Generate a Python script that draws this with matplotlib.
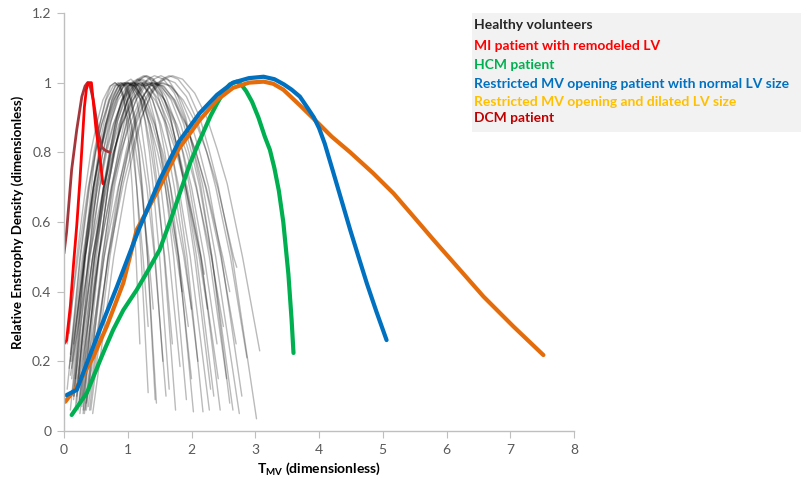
import matplotlib
matplotlib.use("Agg")
import matplotlib.pyplot as plt
from matplotlib.patches import Rectangle

plt.rcParams['font.family'] = ['Lato', 'DejaVu Sans']
plt.rcParams['mathtext.fontset'] = 'custom'
plt.rcParams['mathtext.bf'] = 'Lato:bold'
plt.rcParams['mathtext.rm'] = 'Lato'

# ---------------- data ----------------
# Healthy volunteers: one row per volunteer curve
hv_x = [
    [.10, .25, .39, .47, .56, .66, .77, .85, .89, .94, .99, 1.03, 1.07, 1.13, 1.19],
    [.05, .26, .40, .50, .59, .70, .81, .90, .95, 1.00, 1.05, 1.10, 1.14, 1.21, 1.32],
    [.15, .32, .43, .49, .56, .65, .73, .80, .86, .94, 1.02, 1.08, 1.14, 1.24, 1.32],
    [.10, .33, .47, .56, .65, .75, .86, .95, 1.00, 1.06, 1.12, 1.18, 1.23, 1.31, 1.43],
    [.20, .39, .51, .58, .66, .75, .85, .92, .98, 1.04, 1.11, 1.17, 1.22, 1.31, 1.45],
    [.12, .33, .48, .57, .67, .79, .90, 1.00, 1.06, 1.14, 1.21, 1.27, 1.34, 1.43, 1.55],
    [.18, .41, .56, .65, .74, .85, .96, 1.05, 1.11, 1.19, 1.27, 1.34, 1.40, 1.50, 1.65],
    [.25, .48, .62, .71, .80, .91, 1.01, 1.10, 1.17, 1.25, 1.33, 1.40, 1.47, 1.57, 1.75],
    [.08, .29, .46, .57, .68, .81, .94, 1.05, 1.14, 1.24, 1.35, 1.43, 1.52, 1.65, 1.82],
    [.22, .47, .62, .72, .82, .94, 1.05, 1.15, 1.23, 1.33, 1.43, 1.51, 1.59, 1.72, 1.92],
    [.15, .31, .46, .56, .66, .78, .90, 1.00, 1.11, 1.25, 1.39, 1.51, 1.62, 1.80, 1.95],
    [.30, .55, .69, .79, .88, .99, 1.11, 1.20, 1.29, 1.39, 1.50, 1.58, 1.67, 1.80, 2.03],
    [.14, .39, .56, .67, .78, .91, 1.04, 1.15, 1.26, 1.39, 1.52, 1.63, 1.73, 1.90, 2.10],
    [.28, .54, .70, .80, .90, 1.03, 1.15, 1.25, 1.35, 1.46, 1.58, 1.68, 1.77, 1.93, 2.18],
    [.10, .33, .53, .65, .77, .92, 1.08, 1.20, 1.33, 1.49, 1.65, 1.78, 1.91, 2.12, 2.25],
    [.35, .61, .76, .86, .96, 1.08, 1.20, 1.30, 1.41, 1.54, 1.67, 1.78, 1.88, 2.05, 2.30],
    [.20, .48, .67, .78, .90, 1.04, 1.18, 1.30, 1.43, 1.58, 1.74, 1.87, 2.00, 2.20, 2.40],
    [.32, .60, .77, .88, .98, 1.11, 1.24, 1.35, 1.46, 1.60, 1.74, 1.86, 1.97, 2.15, 2.45],
    [.25, .55, .74, .86, .98, 1.13, 1.28, 1.40, 1.53, 1.68, 1.83, 1.96, 2.08, 2.28, 2.55],
    [.18, .45, .66, .78, .91, 1.07, 1.22, 1.35, 1.51, 1.71, 1.91, 2.07, 2.23, 2.49, 2.60],
    [.40, .69, .86, .97, 1.08, 1.21, 1.34, 1.45, 1.57, 1.73, 1.88, 2.00, 2.13, 2.32, 2.65],
    [.22, .54, .75, .89, 1.03, 1.19, 1.36, 1.50, 1.67, 1.87, 2.08, 2.24, 2.41, 2.66, 2.71],
    [.38, .69, .89, 1.01, 1.13, 1.28, 1.43, 1.55, 1.68, 1.84, 2.00, 2.13, 2.27, 2.47, 2.79],
    [.30, .63, .85, .99, 1.13, 1.29, 1.46, 1.60, 1.74, 1.92, 2.09, 2.24, 2.38, 2.61, 2.87],
    [.45, .78, .98, 1.10, 1.22, 1.37, 1.53, 1.65, 1.79, 1.96, 2.13, 2.27, 2.41, 2.64, 3.02],
    [.35, .70, .93, 1.07, 1.21, 1.38, 1.56, 1.70, 1.86, 2.05, 2.24, 2.40, 2.56, 2.80, 3.07],
    [.20, .45, .63, .74, .86, 1.00, 1.14, 1.25, 1.40, 1.58, 1.77, 1.92, 2.07, 2.31, 2.50],
    [.12, .33, .50, .61, .72, .85, .99, 1.10, 1.25, 1.43, 1.61, 1.76, 1.91, 2.15, 2.20],
    [.05, .22, .38, .49, .59, .72, .85, .95, 1.07, 1.21, 1.35, 1.47, 1.59, 1.77, 1.85],
    [.27, .54, .70, .81, .92, 1.04, 1.18, 1.28, 1.39, 1.53, 1.67, 1.78, 1.90, 2.08, 2.35],
    [.16, .34, .46, .54, .62, .71, .80, .88, .96, 1.05, 1.14, 1.22, 1.30, 1.42, 1.60],
    [.30, .51, .64, .72, .80, .90, 1.00, 1.08, 1.18, 1.30, 1.43, 1.53, 1.63, 1.79, 2.00],
    [.10, .40, .62, .77, .91, 1.08, 1.26, 1.40, 1.55, 1.74, 1.92, 2.07, 2.22, 2.46, 2.70],
    [.24, .49, .64, .74, .84, .96, 1.08, 1.18, 1.29, 1.43, 1.57, 1.69, 1.80, 1.98, 2.28],
    [.42, .72, .90, 1.01, 1.13, 1.27, 1.41, 1.52, 1.63, 1.77, 1.91, 2.02, 2.14, 2.32, 2.60],
    [.08, .20, .34, .42, .51, .61, .72, .80, .87, .97, 1.06, 1.13, 1.21, 1.33, 1.40],
    [.15, .38, .52, .61, .70, .82, .93, 1.02, 1.10, 1.20, 1.29, 1.37, 1.45, 1.58, 1.70],
    [.20, .45, .62, .73, .84, .98, 1.11, 1.22, 1.35, 1.51, 1.67, 1.80, 1.93, 2.14, 2.42],
    [.33, .63, .80, .92, 1.03, 1.17, 1.31, 1.42, 1.56, 1.73, 1.89, 2.03, 2.17, 2.38, 2.75],
    [.12, .31, .46, .56, .65, .77, .89, .98, 1.11, 1.26, 1.42, 1.55, 1.67, 1.88, 2.00],
]
hv_y = [
    [.22, .50, .70, .80, .88, .95, .99, 1.00, .99, .95, .88, .80, .70, .50, .25],
    [.12, .50, .70, .80, .88, .95, .99, 1.00, .99, .95, .88, .80, .70, .50, .11],
    [.10, .50, .70, .80, .88, .95, .99, 1.00, .99, .95, .88, .80, .70, .50, .30],
    [.06, .50, .70, .80, .88, .95, .99, 1.00, .99, .95, .88, .80, .70, .50, .09],
    [.08, .50, .70, .80, .88, .95, .99, 1.00, .99, .95, .88, .80, .70, .50, .08],
    [.15, .50, .70, .80, .88, .95, .99, 1.00, .99, .95, .88, .80, .70, .50, .20],
    [.07, .50, .70, .80, .89, .96, 1.00, 1.01, 1.00, .96, .89, .80, .70, .50, .12],
    [.05, .50, .70, .80, .88, .95, .99, 1.00, .99, .95, .88, .80, .70, .50, .06],
    [.18, .50, .70, .80, .88, .95, .99, 1.00, .99, .95, .88, .80, .70, .50, .185],
    [.06, .50, .70, .80, .89, .96, 1.00, 1.01, 1.00, .96, .89, .80, .70, .50, .09],
    [.25, .50, .70, .80, .88, .95, .99, 1.00, .99, .95, .88, .80, .70, .50, .30],
    [.05, .50, .70, .80, .88, .95, .99, 1.00, .99, .95, .88, .80, .70, .50, .055],
    [.12, .50, .70, .80, .88, .95, .99, 1.00, .99, .95, .88, .80, .70, .50, .20],
    [.07, .50, .71, .81, .90, .97, 1.01, 1.02, 1.01, .97, .90, .81, .71, .50, .055],
    [.20, .50, .70, .80, .88, .95, .99, 1.00, .99, .95, .88, .80, .70, .50, .35],
    [.06, .50, .71, .81, .90, .97, 1.01, 1.02, 1.01, .97, .90, .81, .71, .50, .12],
    [.10, .50, .70, .80, .88, .95, .99, 1.00, .99, .95, .88, .80, .70, .50, .25],
    [.05, .50, .70, .80, .89, .96, 1.00, 1.01, 1.00, .96, .89, .80, .70, .50, .06],
    [.09, .50, .70, .80, .88, .95, .99, 1.00, .99, .95, .88, .80, .70, .50, .15],
    [.15, .50, .70, .80, .88, .95, .99, 1.00, .99, .95, .88, .80, .70, .50, .40],
    [.06, .50, .70, .80, .88, .95, .99, 1.00, .99, .95, .88, .80, .70, .50, .06],
    [.12, .50, .70, .80, .88, .95, .99, 1.00, .99, .95, .88, .80, .70, .50, .47],
    [.07, .50, .70, .80, .88, .95, .99, 1.00, .99, .95, .88, .80, .70, .50, .10],
    [.10, .50, .70, .80, .89, .96, 1.00, 1.01, 1.00, .96, .89, .80, .70, .50, .21],
    [.05, .50, .71, .81, .90, .97, 1.01, 1.02, 1.01, .97, .90, .81, .71, .50, .035],
    [.08, .50, .71, .81, .90, .97, 1.01, 1.02, 1.01, .97, .90, .81, .71, .50, .23],
    [.14, .50, .70, .80, .88, .95, .99, 1.00, .99, .95, .88, .80, .70, .50, .30],
    [.20, .50, .70, .80, .88, .95, .99, 1.00, .99, .95, .88, .80, .70, .50, .45],
    [.25, .50, .70, .80, .88, .95, .99, 1.00, .99, .95, .88, .80, .70, .50, .40],
    [.08, .50, .71, .81, .90, .97, 1.01, 1.02, 1.01, .97, .90, .81, .71, .50, .10],
    [.10, .50, .70, .80, .88, .95, .99, 1.00, .99, .95, .88, .80, .70, .50, .10],
    [.06, .50, .70, .80, .88, .95, .99, 1.00, .99, .95, .88, .80, .70, .50, .15],
    [.16, .50, .70, .80, .88, .95, .99, 1.00, .99, .95, .88, .80, .70, .50, .25],
    [.08, .50, .70, .80, .89, .96, 1.00, 1.01, 1.00, .96, .89, .80, .70, .50, .06],
    [.06, .50, .71, .81, .90, .97, 1.01, 1.02, 1.01, .97, .90, .81, .71, .50, .08],
    [.28, .50, .70, .80, .88, .95, .99, 1.00, .99, .95, .88, .80, .70, .50, .35],
    [.09, .50, .70, .80, .88, .95, .99, 1.00, .99, .95, .88, .80, .70, .50, .25],
    [.12, .50, .70, .80, .89, .96, 1.00, 1.01, 1.00, .96, .89, .80, .70, .50, .15],
    [.06, .50, .71, .81, .90, .97, 1.01, 1.02, 1.01, .97, .90, .81, .71, .50, .05],
    [.18, .50, .70, .80, .88, .95, .99, 1.00, .99, .95, .88, .80, .70, .50, .35],
]

mi_x = [0.00, 0.04, 0.10, 0.15, 0.20, 0.25, 0.29, 0.32, 0.35, 0.38, 0.43, 0.50, 0.56, 0.61]
mi_y = [0.25, 0.26, 0.36, 0.48, 0.59, 0.72, 0.84, 0.93, 0.98, 1.00, 1.00, 0.87, 0.79, 0.71]

dcm_x = [0.00, 0.04, 0.12, 0.20, 0.28, 0.33, 0.37, 0.41, 0.46, 0.54, 0.59, 0.65, 0.72]
dcm_y = [0.51, 0.57, 0.75, 0.865, 0.96, 0.99, 1.00, 0.99, 0.95, 0.855, 0.815, 0.805, 0.80]

hcm_x = [0.12, 0.36, 0.56, 0.64, 0.77, 0.93, 1.14, 1.30, 1.50, 1.70, 1.98, 2.13, 2.30, 2.40,
         2.50, 2.60, 2.71, 2.78, 2.86, 2.95, 3.05, 3.15, 3.23, 3.30, 3.37, 3.44, 3.52, 3.57, 3.60]
hcm_y = [0.046, 0.11, 0.20, 0.235, 0.29, 0.347, 0.405, 0.455, 0.52, 0.62, 0.77, 0.835, 0.905, 0.94,
         0.972, 0.995, 1.003, 0.995, 0.975, 0.945, 0.90, 0.845, 0.807, 0.755, 0.69, 0.60, 0.45, 0.32, 0.224]

rmv_x = [0.04, 0.20, 0.36, 0.56, 0.83, 1.17, 1.50, 1.80, 2.13, 2.40, 2.65, 2.90, 3.13, 3.30,
         3.45, 3.57, 3.70, 3.83, 3.92, 4.00, 4.09, 4.22, 4.36, 4.49, 4.62, 4.75, 4.90, 5.06]
rmv_y = [0.103, 0.118, 0.195, 0.29, 0.414, 0.577, 0.72, 0.83, 0.913, 0.965, 1.00, 1.013, 1.017, 1.01,
         0.995, 0.98, 0.96, 0.925, 0.90, 0.87, 0.825, 0.745, 0.658, 0.577, 0.50, 0.424, 0.343, 0.261]

dil_x = [0.02, 0.20, 0.46, 0.67, 0.93, 1.14, 1.50, 1.80, 2.13, 2.40, 2.65, 2.90, 3.13, 3.28,
         3.44, 3.70, 3.98, 4.20, 4.49, 4.85, 5.17, 5.50, 5.80, 6.20, 6.58, 7.05, 7.52]
dil_y = [0.084, 0.127, 0.213, 0.30, 0.425, 0.577, 0.70, 0.81, 0.893, 0.95, 0.985, 1.00, 1.003, 0.997,
         0.98, 0.935, 0.885, 0.845, 0.80, 0.74, 0.682, 0.612, 0.548, 0.465, 0.386, 0.30, 0.218]

legend_labels = ["Healthy volunteers", "MI patient with remodeled LV", "HCM patient",
                 "Restricted MV opening patient with normal LV size",
                 "Restricted MV opening and dilated LV size", "DCM patient"]
legend_colors = ["#262626", "#ff0000", "#00b050", "#0070c0", "#ffc000", "#c00000"]

x_ticks = [0, 1, 2, 3, 4, 5, 6, 7, 8]
y_ticks = [0, 0.2, 0.4, 0.6, 0.8, 1.0, 1.2]
y_tick_labels = ["0", "0.2", "0.4", "0.6", "0.8", "1", "1.2"]

# ---------------- figure ----------------
W, H = 801, 486
fig = plt.figure(figsize=(W / 100, H / 100), dpi=100)
ax = fig.add_axes([64 / W, 1 - 431 / H, (574 - 64) / W, (431 - 13) / H])

kw = dict(solid_capstyle="round", solid_joinstyle="round")
for xs, ys in zip(hv_x, hv_y):
    ax.plot(xs, ys, color="black", alpha=0.27, lw=1.0, **kw)

ax.plot(dcm_x, dcm_y, color="#a5363b", lw=2.0, **kw)
ax.plot(mi_x, mi_y, color="#ff0000", lw=2.0, **kw)
ax.plot(hcm_x, hcm_y, color="#00b050", lw=3.0, **kw)
ax.plot(dil_x, dil_y, color="#e46c0a", lw=3.0, **kw)
ax.plot(rmv_x, rmv_y, color="#0070c0", lw=3.0, **kw)

ax.set_xlim(0, 8)
ax.set_ylim(0, 1.2)
ax.set_xticks(x_ticks)
ax.set_xticklabels([str(t) for t in x_ticks])
ax.set_yticks(y_ticks)
ax.set_yticklabels(y_tick_labels)

for s in ["top", "right"]:
    ax.spines[s].set_visible(False)
for s in ["left", "bottom"]:
    ax.spines[s].set_color("#bfbfbf")
    ax.spines[s].set_linewidth(1.0)
ax.tick_params(axis="both", direction="out", length=5, color="#bfbfbf",
               labelcolor="#595959", labelsize=10, pad=4)

ax.set_ylabel("Relative Enstrophy Density (dimensionless)", fontsize=9.5,
              fontweight="bold", color="black", labelpad=6)
ax.set_xlabel(r"$\mathbf{T_{MV}}$ (dimensionless)", fontsize=10, fontweight="bold",
              color="black", labelpad=4)

# legend box
fig.patches.append(Rectangle((472 / W, 1 - 132 / H), (W - 472) / W, (132 - 13) / H,
                             transform=fig.transFigure, facecolor="#f2f2f2",
                             edgecolor="none", zorder=0))
legend_y = [25, 46, 65, 83.5, 102.5, 118.5]
for lab, col, yy in zip(legend_labels, legend_colors, legend_y):
    fig.text(474 / W, 1 - yy / H, lab, color=col, fontsize=10, fontweight="bold",
             ha="left", va="center")

fig.savefig("out.png", dpi=100)
